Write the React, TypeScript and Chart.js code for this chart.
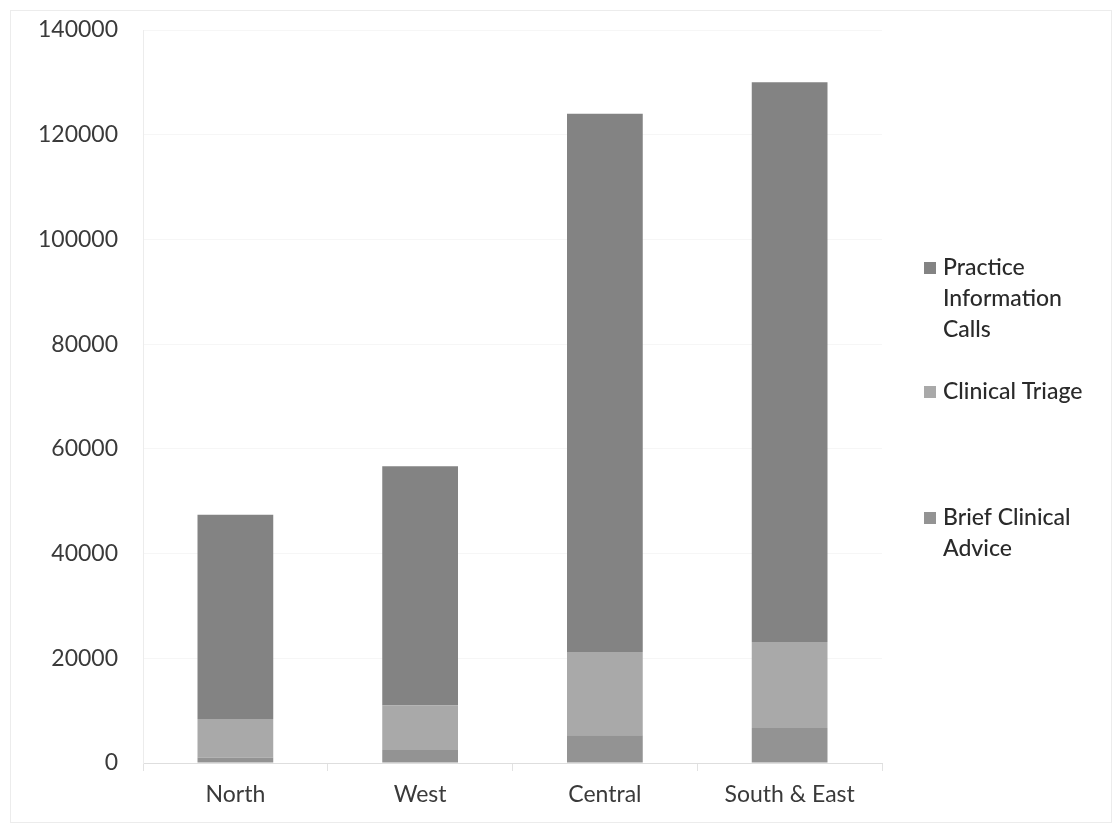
import React, { useEffect, useRef } from "react";
import { Chart, registerables } from "chart.js";

Chart.register(...registerables);

const categories = ["North", "West", "Central", "South & East"];
const briefClinicalAdvice = [1000, 2500, 5300, 6700];
const clinicalTriage = [7400, 8500, 15900, 16400];
const practiceInformationCalls = [39000, 45700, 102800, 106900];
const yTicks = [0, 20000, 40000, 60000, 80000, 100000, 120000, 140000];

const legendLines: Record<string, string[]> = {
  "Practice Information Calls": ["Practice", "Information", "Calls"],
  "Clinical Triage": ["Clinical Triage"],
  "Brief Clinical Advice": ["Brief Clinical", "Advice"],
};

const FONT = "Lato, 'Open Sans', sans-serif";
const TEXT = "#3a3a3a";

const customLegend = {
  id: "customLegend",
  afterDraw(chart: any) {
    const ctx = chart.ctx;
    const { chartArea } = chart;
    const ds = chart.data.datasets;
    const order = [2, 1, 0];
    const tops = [268, 392, 518];
    ctx.save();
    ctx.font = `500 23px ${FONT}`;
    ctx.textBaseline = "middle";
    order.forEach((di, i) => {
      const d = ds[di];
      const lines = legendLines[d.label] || [d.label];
      const y0 = tops[i];
      ctx.fillStyle = d.backgroundColor;
      ctx.fillRect(chartArea.right + 42, y0 - 6, 12, 12);
      ctx.fillStyle = "#2a2a2a";
      lines.forEach((ln: string, k: number) => {
        ctx.fillText(ln, chartArea.right + 61, y0 + k * 31);
      });
    });
    ctx.strokeStyle = "#ececec";
    ctx.lineWidth = 1;
    ctx.strokeRect(10.5, 10.5, chart.width - 16, chart.height - 20);
    ctx.restore();
  },
};

export default function App() {
  const ref = useRef<HTMLCanvasElement>(null);
  useEffect(() => {
    document.body.style.margin = "0";
    const chart = new Chart(ref.current!, {
      type: "bar",
      data: {
        labels: categories,
        datasets: [
          { label: "Brief Clinical Advice", data: briefClinicalAdvice, backgroundColor: "#939393" },
          { label: "Clinical Triage", data: clinicalTriage, backgroundColor: "#a9a9a9" },
          { label: "Practice Information Calls", data: practiceInformationCalls, backgroundColor: "#838383" },
        ],
      },
      plugins: [customLegend],
      options: {
        animation: false,
        responsive: false,
        maintainAspectRatio: false,
        layout: { padding: { top: 30, right: 235, bottom: 0, left: 0 } },
        datasets: { bar: { categoryPercentage: 1, barPercentage: 0.41 } },
        plugins: { legend: { display: false }, tooltip: { enabled: false } },
        scales: {
          x: {
            stacked: true,
            grid: { drawOnChartArea: false, drawTicks: true, tickLength: 8, color: "#e2e2e2" },
            border: { color: "#dedede" },
            ticks: { color: TEXT, font: { family: FONT, size: 23 }, padding: 10, maxRotation: 0 },
            afterFit: (s: any) => { s.height = 69; s.paddingLeft = 0; s.paddingRight = 0; },
          },
          y: {
            stacked: true,
            min: 0,
            max: 140000,
            afterBuildTicks: (s: any) => { s.ticks = yTicks.map((v) => ({ value: v })); },
            grid: { drawTicks: false, color: "#f6f6f6" },
            border: { color: "#ececec" },
            ticks: { color: TEXT, font: { family: FONT, size: 23 }, padding: 25, callback: (v: any) => String(v) },
            afterFit: (s: any) => { s.width = 143; s.paddingTop = 0; s.paddingBottom = 0; },
          },
        },
      },
    });
    return () => chart.destroy();
  }, []);
  return (
    <div style={{ position: "absolute", left: 0, top: 0, width: 1117, height: 832, background: "#fff" }}>
      <canvas ref={ref} width={1117} height={832} />
    </div>
  );
}
